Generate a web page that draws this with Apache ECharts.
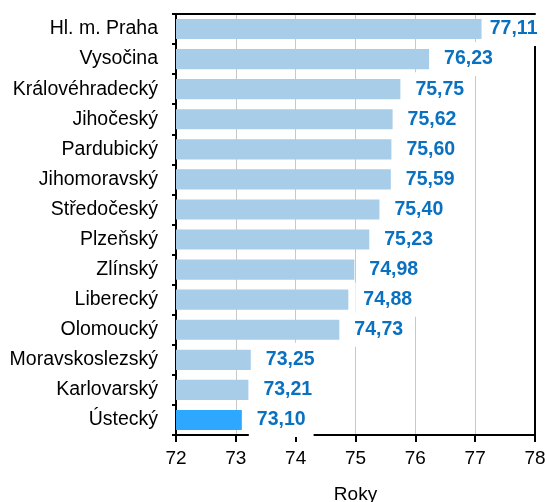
<!DOCTYPE html>
<html lang="cs">
<head>
<meta charset="utf-8">
<title>Naděje dožití</title>
<script src="https://cdn.jsdelivr.net/npm/echarts@6/dist/echarts.min.js"></script>
<style>
  html, body { margin: 0; padding: 0; background: #fff; }
  #chart { width: 545px; height: 502px; }
</style>
</head>
<body>
<div id="chart"></div>
<script>
var kraje = ['Hl. m. Praha', 'Vysočina', 'Královéhradecký', 'Jihočeský', 'Pardubický',
  'Jihomoravský', 'Středočeský', 'Plzeňský', 'Zlínský', 'Liberecký', 'Olomoucký',
  'Moravskoslezský', 'Karlovarský', 'Ústecký'];
var roky = [77.11, 76.23, 75.75, 75.62, 75.60, 75.59, 75.40, 75.23, 74.98, 74.88, 74.73,
  73.25, 73.21, 73.10];
var zvyraznit = 'Ústecký';

var font = 'Liberation Sans, Arial, sans-serif';
var myChart = echarts.init(document.getElementById('chart'));

var data = roky.map(function (v, i) {
  var item = {
    value: v,
    itemStyle: { color: kraje[i] === zvyraznit ? '#2EA8FF' : '#A7CDE8' }
  };
  // nejdelsi sloupec ma popisek blize, aby se vesel do obrazku
  if (i === 0) item.label = { distance: 0 };
  return item;
});

var option = {
  animation: false,
  grid: { left: 176, right: 10, top: 14, bottom: 67, outerBoundsMode: 'none', containLabel: false },
  xAxis: [{
    type: 'value',
    min: 72,
    max: 78,
    interval: 1,
    name: 'Roky',
    nameLocation: 'middle',
    nameGap: 50,
    nameTextStyle: { fontFamily: font, fontSize: 19, color: '#000' },
    axisLine: { show: true, lineStyle: { color: '#000', width: 2 } },
    axisTick: { show: true, length: 7, lineStyle: { color: '#000', width: 2 } },
    axisLabel: { fontFamily: font, fontSize: 19, color: '#000', margin: 14 },
    splitLine: { show: true, lineStyle: { color: '#C8C8C8', width: 1 } }
  }, {
    // horni hrana ramecku
    type: 'value',
    position: 'top',
    min: 72,
    max: 78,
    z: 10,
    axisLine: { show: true, lineStyle: { color: '#000', width: 2 } },
    axisTick: { show: false },
    axisLabel: { show: false },
    splitLine: { show: false }
  }],
  yAxis: [{
    type: 'category',
    data: kraje,
    inverse: true,
    axisLine: { show: true, lineStyle: { color: '#000', width: 2 } },
    axisTick: { show: true, length: 4, lineStyle: { color: '#000', width: 2 } },
    axisLabel: { fontFamily: font, fontSize: 19.5, color: '#000', margin: 18 }
  }, {
    // prava hrana ramecku
    type: 'category',
    data: kraje,
    inverse: true,
    position: 'right',
    axisLine: { show: true, lineStyle: { color: '#000', width: 2 } },
    axisTick: { show: false },
    axisLabel: { show: false }
  }],
  series: [{
    type: 'bar',
    data: data,
    barCategoryGap: '33%',
    label: {
      show: true,
      position: 'right',
      distance: 7,
      fontFamily: font,
      fontSize: 19.5,
      fontWeight: 'bold',
      color: '#0A70C0',
      backgroundColor: '#fff',
      padding: [7, 8],
      formatter: function (p) { return p.value.toFixed(2).replace('.', ','); }
    }
  }]
};
myChart.setOption(option);
</script>
</body>
</html>
